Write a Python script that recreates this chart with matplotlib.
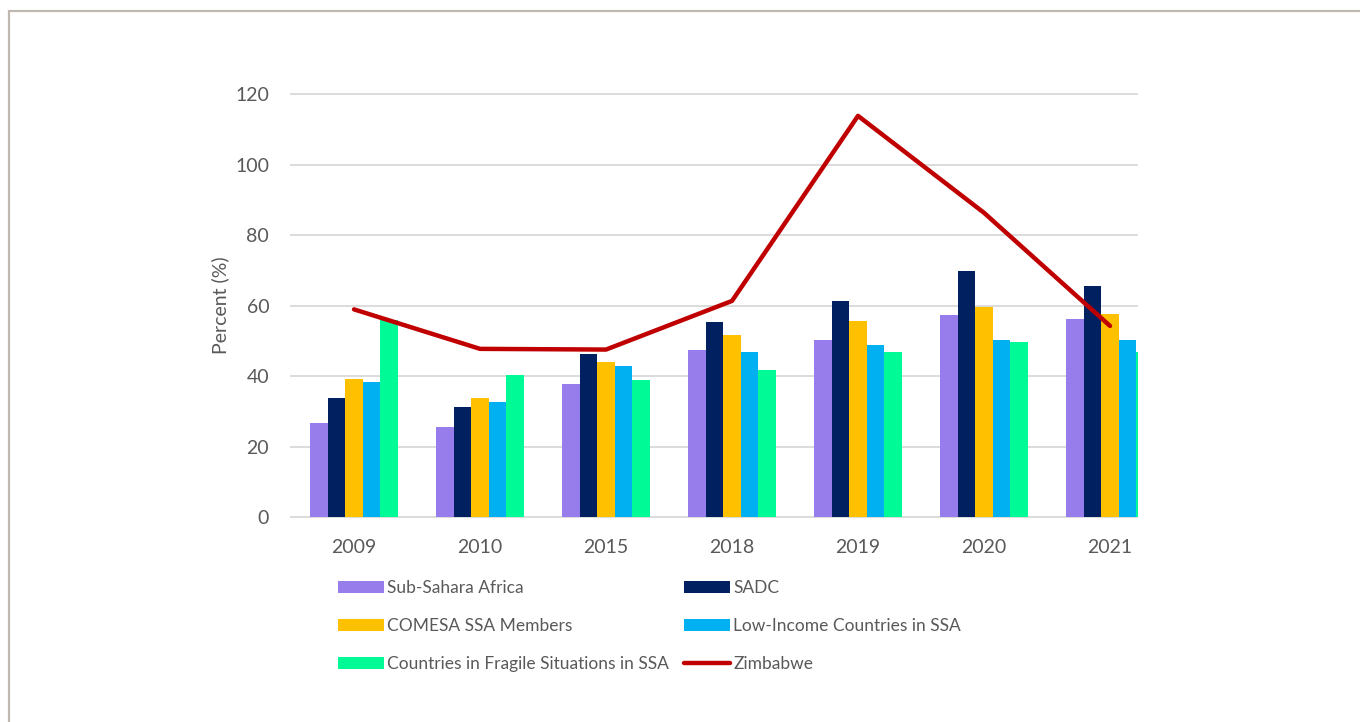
import matplotlib
matplotlib.use("Agg")
import matplotlib.pyplot as plt
import numpy as np
from matplotlib.patches import Rectangle

plt.rcParams['font.family'] = ['Lato', 'DejaVu Sans']

years = ["2009", "2010", "2015", "2018", "2019", "2020", "2021"]
sub_sahara = [26.8, 25.6, 37.6, 47.5, 50.3, 57.2, 56.3]
sadc = [33.9, 31.3, 46.2, 55.4, 61.4, 69.9, 65.5]
comesa = [39.1, 33.8, 44.0, 51.5, 55.7, 59.5, 57.5]
low_income = [38.2, 32.5, 42.9, 46.8, 48.7, 50.3, 50.3]
fragile = [56.0, 40.4, 38.9, 41.7, 46.8, 49.6, 46.8]
zimbabwe = [58.9, 47.7, 47.5, 61.3, 113.8, 86.3, 54.2]

bar_series = [
    ("Sub-Sahara Africa", sub_sahara, "#967DEB"),
    ("SADC", sadc, "#002060"),
    ("COMESA SSA Members", comesa, "#FFC000"),
    ("Low-Income Countries in SSA", low_income, "#00B0F0"),
    ("Countries in Fragile Situations in SSA", fragile, "#00FA96"),
]
line_label = "Zimbabwe"
line_color = "#C00000"

W, H = 1360, 722
fig = plt.figure(figsize=(W / 100, H / 100), dpi=100)

px_per_unit = 3.525
y_lo, y_hi = -1.0, 121.0
ax_left, ax_right = 290, 1138
ax_bottom_px = 517 + 1.0 * px_per_unit
ax_top_px = 94 - 1.0 * px_per_unit
ax = fig.add_axes([ax_left / W, 1 - ax_bottom_px / H,
                   (ax_right - ax_left) / W, (ax_bottom_px - ax_top_px) / H])

x = np.arange(len(years))
w = 0.139
handles = {}
for i, (lab, vals, col) in enumerate(bar_series):
    b = ax.bar(x + (i - 2) * w, vals, width=w, color=col, label=lab, zorder=2)
    handles[lab] = b
ln, = ax.plot(x, zimbabwe, color=line_color, lw=3.2, solid_capstyle='round',
              solid_joinstyle='round', zorder=3, label=line_label)
handles[line_label] = ln

ax.set_xlim(-0.508, 6.222)
ax.set_ylim(y_lo, y_hi)
ax.set_yticks(np.arange(0, 121, 20))
ax.set_xticks(x)
ax.set_xticklabels(years)
ax.grid(axis='y', color='#D9D9D9', lw=1.3, zorder=0)
ax.set_axisbelow(True)
for s in ax.spines.values():
    s.set_visible(False)
ax.tick_params(axis='both', length=0, labelsize=14, labelcolor='#595959')
ax.tick_params(axis='x', pad=13)
ax.tick_params(axis='y', pad=15)
ax.set_ylabel("Percent (%)", fontsize=14, color='#595959', labelpad=4)

col1 = ["Sub-Sahara Africa", "COMESA SSA Members", "Countries in Fragile Situations in SSA"]
col2 = ["SADC", "Low-Income Countries in SSA", "Zimbabwe"]
common = dict(frameon=False, fontsize=12.5, labelcolor='#595959', handlelength=2.65,
              handletextpad=0.2, labelspacing=1.27, borderpad=0, borderaxespad=0,
              loc='upper left')
leg1 = fig.legend([handles[k] for k in col1], col1,
                  bbox_to_anchor=(338 / W, 1 - 580 / H), **common)
leg2 = fig.legend([handles[k] for k in col2], col2,
                  bbox_to_anchor=(684 / W, 1 - 580 / H), **common)

fig.patches.append(Rectangle((9 / W, -0.05), 1.2, 1 - 11 / H + 0.05,
                             transform=fig.transFigure, fill=False,
                             edgecolor='#BFB9B2', lw=1.6))

fig.savefig("out.png", dpi=100)
